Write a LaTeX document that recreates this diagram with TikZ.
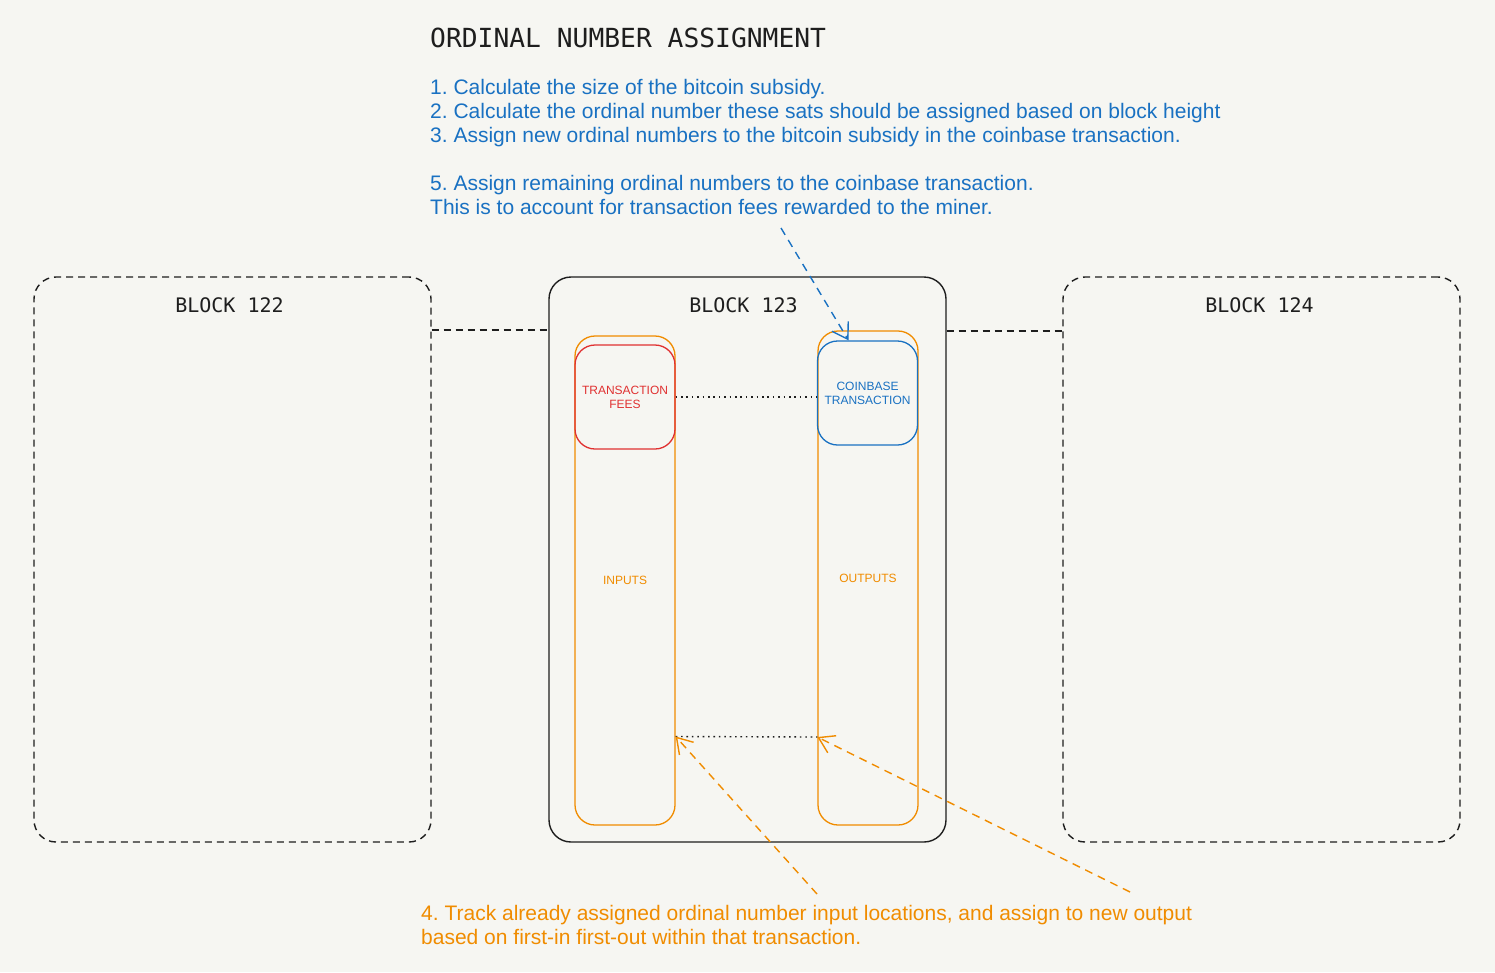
\documentclass[tikz,border=0pt]{standalone}
\usepackage{fontspec}
\setmainfont{Liberation Sans}
\newfontfamily\blockfont{DejaVu Sans Mono}
\usetikzlibrary{arrows.meta,positioning,calc}
\definecolor{paper}{HTML}{F6F6F2}
\definecolor{inkblue}{HTML}{1971C2}
\definecolor{inkorange}{HTML}{F08C00}
\definecolor{inkred}{HTML}{E03131}
\definecolor{ink}{HTML}{1E1E1E}
\frenchspacing

\begin{document}
\begin{tikzpicture}[
    x=1pt, y=-1pt,
    block/.style={draw=ink, line width=1.4pt, rounded corners=22pt, minimum width=397pt, minimum height=565pt},
    ghost/.style={block, dash pattern=on 7pt off 5pt},
    column/.style={draw=inkorange, line width=1.3pt, rounded corners=20pt, minimum width=100pt, text=inkorange, font=\fontsize{12}{14}\selectfont},
    txbox/.style={line width=1.3pt, rounded corners=20pt, minimum width=100pt, minimum height=104pt, align=center, font=\fontsize{12}{14}\selectfont},
    blocklabel/.style={font=\blockfont\fontsize{20}{24}\selectfont, text=ink, inner sep=0pt},
    note/.style={font=\fontsize{21}{24}\selectfont, align=left, inner sep=0pt},
    link/.style={draw=ink, line width=1.4pt, dash pattern=on 7pt off 5pt},
    trace/.style={draw=ink, line width=1.4pt, dash pattern=on 1.6pt off 3.8pt},
    pointer/.style={-{Straight Barb[length=15pt,width=19pt]}, line width=1.4pt, dash pattern=on 8pt off 6pt}
]
    \fill[paper] (0,0) rectangle (1495,972);
    \useasboundingbox (0,0) rectangle (1495,972);

    % title and steps
    \node[blocklabel, font=\blockfont\fontsize{26.3}{30}\selectfont, anchor=base west] (title) at (430,47) {ORDINAL NUMBER ASSIGNMENT};
    \node[note, text=inkblue, anchor=north west] (steps) at (430,78.7) {1. Calculate the size of the bitcoin subsidy.\\2. Calculate the ordinal number these sats should be assigned based on block height\\3. Assign new ordinal numbers to the bitcoin subsidy in the coinbase transaction.};
    \node[note, text=inkblue, anchor=north west] (stepfive) at (430,174.7) {5. Assign remaining ordinal numbers to the coinbase transaction.\\This is to account for transaction fees rewarded to the miner.};
    \node[note, text=inkorange, anchor=north west] (stepfour) at (421,904.7) {4. Track already assigned ordinal number input locations, and assign to new output\\based on first-in first-out within that transaction.};

    % blocks
    \node[ghost] (blk122) at (232.5,559.5) {};
    \node[block] (blk123) at (747.5,559.5) {};
    \node[ghost] (blk124) at (1261.5,559.5) {};
    \node[blocklabel, anchor=north] (lbl122) at ([xshift=-3pt, yshift=-21pt]blk122.north) {BLOCK 122};
    \node[blocklabel, anchor=north] (lbl123) at ([xshift=-4pt, yshift=-21pt]blk123.north) {BLOCK 123};
    \node[blocklabel, anchor=north] (lbl124) at ([xshift=-2pt, yshift=-21pt]blk124.north) {BLOCK 124};
    \draw[link] ([yshift=229.5pt]blk122.east) -- ([yshift=229.5pt]blk123.west);
    \draw[link] ([yshift=228.5pt]blk123.east) -- ([yshift=228.5pt]blk124.west);

    % inputs and outputs
    \node[column, minimum height=489pt] (inputs) at (625,580.5) {INPUTS};
    \node[column, minimum height=494pt] (outputs) at (868,578) {OUTPUTS};
    \node[txbox, draw=inkred, text=inkred] (fees) at (625,397) {TRANSACTION\\FEES};
    \node[txbox, draw=inkblue, text=inkblue] (coinbase) at (867.5,393) {COINBASE\\TRANSACTION};

    \draw[trace] (fees.east) -- (fees.east -| coinbase.west);
    \coordinate (inmark) at ([yshift=-156pt]inputs.east);
    \coordinate (outmark) at ([yshift=-159pt]outputs.west);
    \draw[trace] (inmark) -- (outmark);

    % pointers
    \coordinate (cbtail) at (781,228);
    \coordinate (intail) at (817,894);
    \coordinate (outtail) at (1130,892);
    \draw[pointer, inkblue] (cbtail) -- ([xshift=-19pt]coinbase.north);
    \draw[pointer, inkorange] (intail) -- (inmark);
    \draw[pointer, inkorange] (outtail) -- (outmark);
\end{tikzpicture}
\end{document}
